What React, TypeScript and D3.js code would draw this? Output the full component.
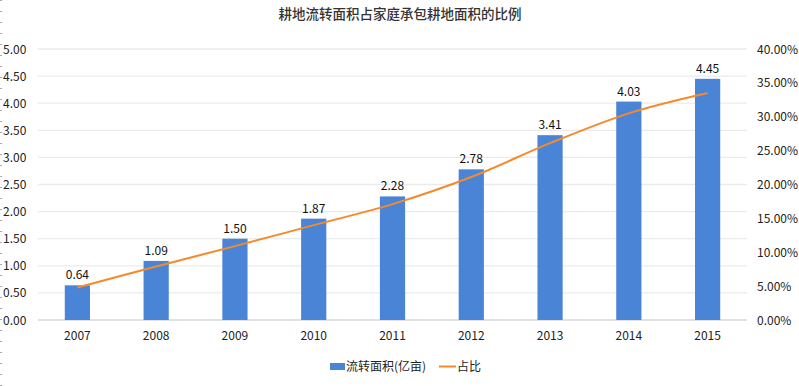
import React from "react";
import * as d3 from "d3";

const years = ["2007", "2008", "2009", "2010", "2011", "2012", "2013", "2014", "2015"];
const area = [0.64, 1.09, 1.5, 1.87, 2.28, 2.78, 3.41, 4.03, 4.45];
const ratio = [4.8, 7.9, 10.9, 14.0, 17.1, 21.1, 26.1, 30.5, 33.5];
const leftTicks = [0, 0.5, 1, 1.5, 2, 2.5, 3, 3.5, 4, 4.5, 5];
const rightTicks = [0, 5, 10, 15, 20, 25, 30, 35, 40];
const title = "耕地流转面积占家庭承包耕地面积的比例";
const barName = "流转面积(亿亩)";
const lineName = "占比";

const W = 799;
const H = 386;
const FONT = "'Noto Sans CJK SC', 'Open Sans', sans-serif";

export default function App() {
  const x = d3.scaleBand().domain(years).range([38, 747]).paddingInner(0.68).paddingOuter(0.34);
  const yL = d3.scaleLinear().domain([0, 5]).range([320, 49]);
  const yR = d3.scaleLinear().domain([0, 40]).range([320, 49]);
  const line = d3
    .line<number>()
    .x((_, i) => (x(years[i]) as number) + x.bandwidth() / 2)
    .y((d) => yR(d))
    .curve(d3.curveCatmullRom.alpha(0.5));
  const bw = x.bandwidth();
  return (
    <svg width={W} height={H} style={{ position: "absolute", left: 0, top: 0, background: "#fff" }}>
      <line x1={1} x2={1} y1={0} y2={H} stroke="#aaa" strokeWidth={2} strokeDasharray="1,10" />
      <text x={400} y={19} textAnchor="middle" fontFamily={FONT} fontSize={13.5} fill="#333" fontWeight={500}>
        {title}
      </text>
      {leftTicks.map((t) => (
        <g key={t}>
          <line x1={38} x2={747} y1={yL(t)} y2={yL(t)} stroke={t === 0 ? "#d9d9d9" : "#ebebeb"} strokeWidth={1.3} />
          <text x={3} y={yL(t) + 4.5} fontFamily={FONT} fontSize={12} fill="#222">
            {d3.format(".2f")(t)}
          </text>
        </g>
      ))}
      {rightTicks.map((t) => (
        <text key={t} x={757} y={yR(t) + 4.5} fontFamily={FONT} fontSize={12} fill="#222">
          {d3.format(".2f")(t)}%
        </text>
      ))}
      {years.map((yr, i) => (
        <g key={yr}>
          <rect x={x(yr)} y={yL(area[i])} width={bw} height={yL(0) - yL(area[i])} fill="#4A84D6" />
          <text
            x={(x(yr) as number) + bw / 2}
            y={yL(area[i]) - 6}
            textAnchor="middle"
            fontFamily={FONT}
            fontSize={12}
            fill="#111"
          >
            {d3.format(".2f")(area[i])}
          </text>
          <text x={(x(yr) as number) + bw / 2} y={340} textAnchor="middle" fontFamily={FONT} fontSize={12} fill="#222">
            {yr}
          </text>
        </g>
      ))}
      <path d={line(ratio) || ""} fill="none" stroke="#F58A2A" strokeWidth={2} />
      <rect x={330} y={363} width={15} height={7} fill="#4A84D6" />
      <text x={346} y={371} fontFamily={FONT} fontSize={12} fill="#222">
        {barName}
      </text>
      <line x1={439} x2={456} y1={366.5} y2={366.5} stroke="#F58A2A" strokeWidth={2} />
      <text x={457} y={371} fontFamily={FONT} fontSize={12} fill="#222">
        {lineName}
      </text>
    </svg>
  );
}
